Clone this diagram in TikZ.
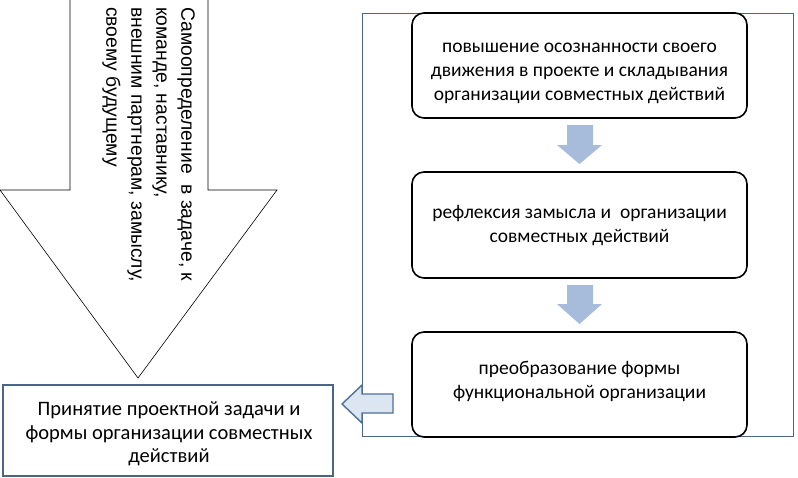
\documentclass[tikz,border=0pt]{standalone}
\usepackage{fontspec}
\setmainfont{Carlito}
\newfontfamily\arialf{Liberation Sans}
\definecolor{frameblue}{HTML}{4A6585}
\definecolor{arrowfill}{HTML}{A7BBDB}
\definecolor{leftfill}{HTML}{DCE6F2}
\definecolor{leftline}{HTML}{4F6F96}
\begin{document}
\begin{tikzpicture}[x=1pt,y=-1pt,
  stageframe/.style={draw=black,line width=1.6pt,rounded corners=12pt},
  txt/.style={align=center,font=\fontsize{19.5}{24}\selectfont,inner sep=0pt}]
\useasboundingbox (0,0) rectangle (798,477);
% big down arrow
\draw[line width=0.6pt] (70,-2) -- (70,190) -- (0,190) -- (138,378) -- (277,190) -- (208,190) -- (208,-2);
\node[rotate=-90,anchor=north west,align=left,inner sep=0pt,font=\arialf\fontsize{19.3}{25}\selectfont] (selfdet) at (195,7)
 {Самоопределение \ в задаче, к\\команде, наставнику,\\внешним партнерам, замыслу,\\своему будущему};
% outer frame
\draw[frameblue,line width=0.8pt] (362,13) rectangle (793,436);
% stage boxes
\draw[stageframe] (412,13) rectangle (747,118);
\node[txt] (s1) at (579.5,73) {повышение осознанности своего\\движения в проекте и складывания\\организации совместных действий};
\draw[stageframe] (412,172) rectangle (747,278);
\node[txt] (s2) at (579.5,226) {рефлексия замысла и \ организации\\совместных действий};
\draw[stageframe] (412,332) rectangle (747,437);
\node[txt] (s3) at (579.5,381) {преобразование формы\\функциональной организации};
% small down arrows
\fill[arrowfill] (567,125) -- (593,125) -- (593,145) -- (602,145) -- (579.5,164) -- (557,145) -- (567,145) -- cycle;
\fill[arrowfill] (567,285) -- (593,285) -- (593,304) -- (602,304) -- (579.5,324) -- (557,304) -- (567,304) -- cycle;
% left arrow
\draw[leftline,fill=leftfill,line width=1.4pt,line join=miter] (393,394) -- (362,394) -- (362,385) -- (342,404) -- (362,423) -- (362,413) -- (393,413) -- cycle;
% bottom-left box
\draw[frameblue,line width=1.8pt] (3,385) rectangle (333,476);
\node[align=center,inner sep=0pt,font=\fontsize{20.5}{23.5}\selectfont] (acc) at (169,434) {Принятие проектной задачи и\\формы организации совместных\\действий};
\end{tikzpicture}
\end{document}
